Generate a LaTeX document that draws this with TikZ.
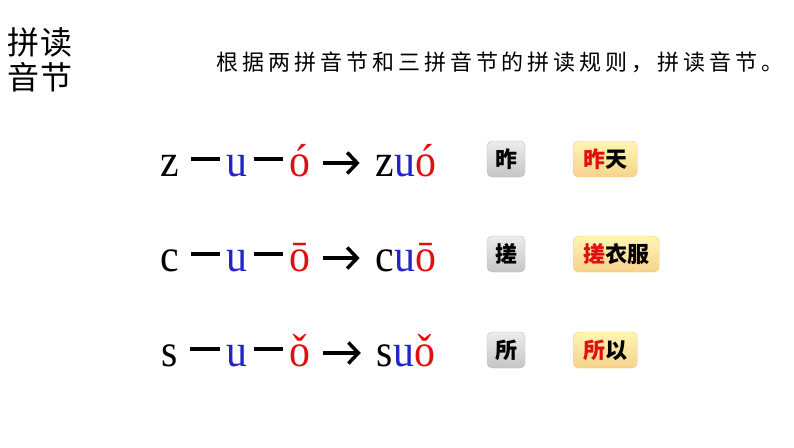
\documentclass[tikz,border=0pt]{standalone}
\usepackage{fontspec}
\usepackage{graphicx}
\setmainfont{Liberation Serif}
\newfontfamily\cjk{Noto Sans CJK SC}
\usetikzlibrary{arrows.meta,positioning,calc}
\definecolor{pyblue}{HTML}{2424CC}
\definecolor{pyred}{HTML}{E01010}
\definecolor{boxgray}{HTML}{BDBDBD}
\definecolor{boxorange}{HTML}{F5CB78}
\newcommand{\hz}[1]{\textcolor{pyred}{#1}}
\newcommand{\py}[1]{\scalebox{0.95}[1.05]{#1}}

\begin{document}
\begin{tikzpicture}[
  x=1pt, y=-1pt,
  letter/.style={anchor=base, inner sep=0pt, font=\fontsize{44}{44}\selectfont},
  bar/.style={line width=3.5pt},
  arr/.style={line width=3.5pt, -{Straight Barb[length=10pt,width=21pt]}},
  charbox/.style={draw=boxgray, top color=gray!15, bottom color=gray!45, rounded corners=5pt,
    minimum width=38pt, minimum height=36pt, inner sep=0pt, font=\cjk\bfseries\fontsize{22}{22}\selectfont},
  wordbox/.style={draw=boxorange, top color=orange!25!yellow!30, bottom color=boxorange!85, rounded corners=5pt,
    anchor=west, minimum height=36pt, inner xsep=10pt, inner ysep=0pt, font=\cjk\bfseries\fontsize{22}{22}\selectfont}
]
\path[fill=white, use as bounding box] (0,0) rectangle (794,447);

\node[align=left, inner sep=0pt, font=\cjk\fontsize{32}{35}\selectfont] (title) at (40,60) {拼读\\音节};
\node[inner sep=0pt, font=\cjk\addfontfeature{LetterSpace=18}\fontsize{22}{22}\selectfont] (task) at (500,62)
  {根据两拼音节和三拼音节的拼读规则，拼读音节。};

% zuo
\node[letter] (z) at (170,176) {\py{z}};
\node[letter, pyblue] (u1) at (237,176) {\py{u}};
\node[letter, pyred] (o1) at (300,176) {\py{ó}};
\node[letter] (zuo) at (406,176) {\py{z\textcolor{pyblue}{u}\textcolor{pyred}{ó}}};
\node[charbox] (zuoc) at (506,159) {昨};
\node[wordbox] (zuow) at (573,159) {\hz{昨}天};
\draw[bar] ([xshift=12pt,yshift=17pt]z.base east) -- ([xshift=-6pt,yshift=17pt]u1.base west);
\draw[bar] ([xshift=6pt,yshift=17pt]u1.base east) -- ([xshift=-6pt,yshift=17pt]o1.base west);
\draw[arr] ([xshift=12pt,yshift=13pt]o1.base east) -- ([xshift=-16pt,yshift=13pt]zuo.base west);

% cuo
\node[letter] (c) at (170,271) {\py{c}};
\node[letter, pyblue] (u2) at (237,271) {\py{u}};
\node[letter, pyred] (o2) at (300,271) {\py{ō}};
\node[letter] (cuo) at (406,271) {\py{c\textcolor{pyblue}{u}\textcolor{pyred}{ō}}};
\node[charbox] (cuoc) at (506,254) {搓};
\node[wordbox] (cuow) at (573,254) {\hz{搓}衣服};
\draw[bar] ([xshift=12pt,yshift=17pt]c.base east) -- ([xshift=-6pt,yshift=17pt]u2.base west);
\draw[bar] ([xshift=6pt,yshift=17pt]u2.base east) -- ([xshift=-6pt,yshift=17pt]o2.base west);
\draw[arr] ([xshift=12pt,yshift=13pt]o2.base east) -- ([xshift=-16pt,yshift=13pt]cuo.base west);

% suo
\node[letter] (s) at (170,366) {\py{s}};
\node[letter, pyblue] (u3) at (237,366) {\py{u}};
\node[letter, pyred] (o3) at (300,366) {\py{ǒ}};
\node[letter] (suo) at (406,366) {\py{s\textcolor{pyblue}{u}\textcolor{pyred}{ǒ}}};
\node[charbox] (suoc) at (506,350) {所};
\node[wordbox] (suow) at (573,350) {\hz{所}以};
\draw[bar] ([xshift=12pt,yshift=17pt]s.base east) -- ([xshift=-6pt,yshift=17pt]u3.base west);
\draw[bar] ([xshift=6pt,yshift=17pt]u3.base east) -- ([xshift=-6pt,yshift=17pt]o3.base west);
\draw[arr] ([xshift=12pt,yshift=13pt]o3.base east) -- ([xshift=-16pt,yshift=13pt]suo.base west);
\end{tikzpicture}
\end{document}
